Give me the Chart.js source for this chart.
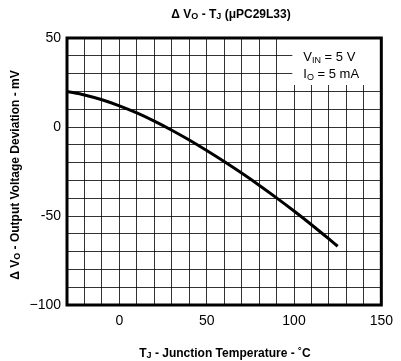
<!DOCTYPE html>
<html>
<head>
<meta charset="utf-8">
<script src="https://cdn.jsdelivr.net/npm/chart.js@4"></script>
<style>
    html, body { margin: 0; background: #fff; }
</style>
</head>
<body>
<canvas id="chart" width="401" height="361"></canvas>
<script>
// Data (junction temperature vs. output deviation)
const tempC   = [-30, -20, -10,   0,  10,  20,   30,   40,    50,    60,    70,    80,    90,   100,   110,   120, 125];
const deltaVo = [ 20,  18, 15.3, 11.9, 7.9, 3.3, -1.8, -7.3, -13.2, -19.4, -25.9, -32.7, -39.8, -47.2, -54.9, -62.9, -67];

const xTickLabels = [0, 50, 100, 150];
const yTickLabels = { '50': '50', '0': '0', '-50': '-50', '-100': '\u2212100' };

const FONT = '"Liberation Sans", Arial, sans-serif';

// draw text made of parts, some of them subscripts
function drawRich(ctx, parts, x, y, size, bold, align) {
    const big = (bold ? 'bold ' : '') + size + 'px ' + FONT;
    const small = (bold ? 'bold ' : '') + Math.round(size * 0.72) + 'px ' + FONT;
    let total = 0;
    parts.forEach(p => {
        ctx.font = p.sub ? small : big;
        total += ctx.measureText(p.t).width;
    });
    let cx = align === 'center' ? x - total / 2 : x;
    ctx.textAlign = 'left';
    ctx.textBaseline = 'alphabetic';
    parts.forEach(p => {
        ctx.font = p.sub ? small : big;
        ctx.fillText(p.t, cx, p.sub ? y + size * 0.12 : y);
        cx += ctx.measureText(p.t).width;
    });
}

const decorPlugin = {
    id: 'decor',
    beforeDatasetsDraw(chart) {
        const ctx = chart.ctx;
        const a = chart.chartArea;
        ctx.save();
        // condition box in the upper right corner
        ctx.fillStyle = '#fff';
        ctx.fillRect(a.right - 89, a.top, 89, 47);
        ctx.fillStyle = '#000';
        drawRich(ctx, [{ t: 'V' }, { t: 'IN', sub: true }, { t: ' = 5 V' }], a.right - 78, a.top + 23, 13, false);
        drawRich(ctx, [{ t: 'I' }, { t: 'O', sub: true }, { t: ' = 5 mA' }], a.right - 78, a.top + 40, 13, false);
        ctx.restore();
    },
    afterDraw(chart) {
        const ctx = chart.ctx;
        const a = chart.chartArea;
        ctx.save();
        ctx.strokeStyle = '#000';
        ctx.lineWidth = 3;
        ctx.strokeRect(a.left, a.top, a.right - a.left, a.bottom - a.top);

        ctx.fillStyle = '#000';
        // title
        drawRich(ctx, [{ t: '\u0394 V' }, { t: 'O', sub: true }, { t: ' - T' }, { t: 'J', sub: true },
                       { t: ' (\u03bcPC29L33)' }], 231, 18, 12, true, 'center');
        // x axis title
        drawRich(ctx, [{ t: 'T' }, { t: 'J', sub: true }, { t: ' - Junction Temperature - \u02daC' }],
                 225, 357, 12, true, 'center');
        // y axis title
        ctx.translate(19, 175);
        ctx.rotate(-Math.PI / 2);
        drawRich(ctx, [{ t: '\u0394 V' }, { t: 'O', sub: true }, { t: ' - Output Voltage Deviation - mV' }],
                 0, 0, 12, true, 'center');
        ctx.restore();
    }
};

const gridColor = 'rgba(0,0,0,0.8)';

new Chart(document.getElementById('chart'), {
    type: 'line',
    data: {
        datasets: [{
            data: tempC.map((t, i) => ({ x: t, y: deltaVo[i] })),
            borderColor: '#000',
            borderWidth: 3,
            pointRadius: 0,
            cubicInterpolationMode: 'monotone',
            fill: false
        }]
    },
    options: {
        responsive: false,
        animation: false,
        layout: { padding: { left: 20, top: 38, right: 12, bottom: 0 } },
        plugins: {
            legend: { display: false },
            tooltip: { enabled: false }
        },
        scales: {
            x: {
                type: 'linear',
                min: -30,
                max: 150,
                afterFit: s => { s.height = 56; },
                border: { display: false },
                grid: { color: gridColor, lineWidth: 1, drawTicks: false },
                ticks: {
                    stepSize: 10,
                    autoSkip: false,
                    maxRotation: 0,
                    padding: 8,
                    color: '#000',
                    font: { family: FONT, size: 14 },
                    callback: v => xTickLabels.includes(v) ? String(v) : ''
                }
            },
            y: {
                min: -100,
                max: 50,
                afterFit: s => { s.width = 47; },
                border: { display: false },
                grid: { color: gridColor, lineWidth: 1, drawTicks: false },
                ticks: {
                    stepSize: 10,
                    autoSkip: false,
                    padding: 6,
                    color: '#000',
                    font: { family: FONT, size: 14 },
                    callback: v => yTickLabels[String(v)] || ''
                }
            }
        }
    },
    plugins: [decorPlugin]
});
</script>
</body>
</html>
